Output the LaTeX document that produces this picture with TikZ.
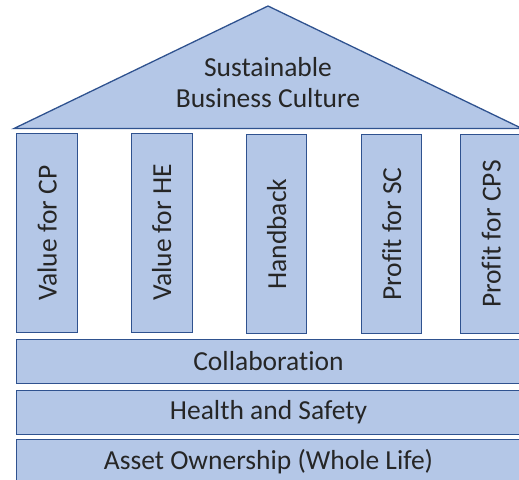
\documentclass[tikz,border=0pt]{standalone}
\usepackage{fontspec}
\setmainfont{Carlito}[Ligatures={NoCommon}]
\begin{document}
\begin{tikzpicture}[x=1pt,y=-1pt,
  shapefill/.style={fill=boxblue,draw=edgeblue,line width=1.3pt},
  pillar/.style={shapefill,minimum width=61pt,minimum height=199pt,inner sep=0pt,anchor=north west},
  bar/.style={shapefill,minimum width=505pt,minimum height=44pt,inner sep=0pt,anchor=north west},
  lbl/.style={text=txtgray,font=\fontsize{27.5}{31}\selectfont,align=center},
  plbl/.style={lbl,rotate=90}]
\definecolor{boxblue}{HTML}{B4C7E7}
\definecolor{edgeblue}{HTML}{2F528F}
\definecolor{txtgray}{HTML}{262626}
\useasboundingbox (0,0) rectangle (519,479);
% roof
\coordinate (apex) at (268,6);
\coordinate (roofL) at (14,128.5);
\coordinate (roofR) at (522,128.5);
\draw[shapefill,line join=miter] (roofL) -- (apex) -- (roofR) -- cycle;
\node[lbl] (roof) at (268,83) {Sustainable\\Business Culture};
% pillars
\node[pillar] (p1) at (16,133) {};
\node[pillar] (p2) at (130.5,132.5) {};
\node[pillar,minimum width=60pt] (p3) at (246,134) {};
\node[pillar,minimum width=60pt] (p4) at (361,134) {};
\node[pillar] (p5) at (460,134) {};
\node[plbl] (t1) at (p1.center) {Value for CP};
\node[plbl] (t2) at (p2.center) {Value for HE};
\node[plbl] (t3) at (p3.center) {Handback};
\node[plbl] (t4) at (p4.center) {Profit for SC};
\node[plbl] (t5) at (p5.center) {Profit for CPS};
% bars
\node[bar] (b1) at (16,339) {};
\node[bar] (b2) at (16,390) {};
\node[bar] (b3) at (16,439) {};
\node[lbl] (l1) at (268.5,361) {Collaboration};
\node[lbl] (l2) at (268.5,412) {Health and Safety};
\node[lbl] (l3) at (268.5,462) {Asset Ownership (Whole Life)};
\end{tikzpicture}
\end{document}
